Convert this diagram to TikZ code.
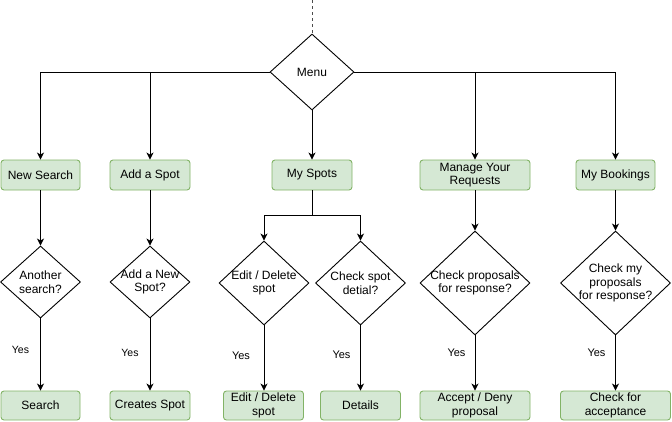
\documentclass[tikz,border=0pt]{standalone}
\usepackage{fontspec}
\setmainfont{Liberation Sans}
\usetikzlibrary{shapes.geometric,arrows.meta}
\definecolor{boxfill}{HTML}{D5E8D4}
\definecolor{boxline}{HTML}{82B366}
\begin{document}
\begin{tikzpicture}[x=1pt,y=-1pt,
  every node/.style={font=\fontsize{12}{13.5}\selectfont},
  gbox/.style={draw=boxline,fill=boxfill,rounded corners=3pt,line width=0.9pt,
    minimum height=30pt,inner sep=0pt,align=center},
  dia/.style={draw=black,diamond,line width=0.9pt,inner sep=0pt,fill=white},
  txt/.style={align=center,inner sep=0pt},
  lab/.style={inner sep=0pt,font=\fontsize{10.5}{12}\selectfont},
  conn/.style={draw=black,line width=0.9pt,-{Stealth[length=7pt,width=7pt,inset=2pt]}}]
\useasboundingbox (0,0) rectangle (672,421);
% menu
\node[dia,minimum width=84pt,minimum height=76pt] (menu) at (312,72) {};
\node[txt] (menut) at (menu) {Menu};
\coordinate (top) at (312,0);
% row 1
\node[gbox,minimum width=79pt] (ns) at (40.5,175) {New Search};
\node[gbox,minimum width=80pt] (as) at (150,175) {Add a Spot};
\node[gbox,minimum width=80pt] (ms) at (312,175) {My Spots};
\node[gbox,minimum width=110pt] (mr) at (475,175) {Manage Your\\Requests};
\node[gbox,minimum width=79pt] (mb) at (615.5,175) {My Bookings};
% diamonds
\node[dia,minimum width=80pt,minimum height=72pt] (d1) at (40.5,282) {};
\node[txt] (d1t) at (d1) {Another\\search?};
\node[dia,minimum width=80pt,minimum height=72pt] (d2) at (150,282) {};
\node[txt] (d2t) at (d2) {Add a New\\Spot?};
\node[dia,minimum width=90pt,minimum height=84pt] (d3) at (264,283) {};
\node[txt] (d3t) at (d3) {Edit / Delete\\spot};
\node[dia,minimum width=90pt,minimum height=84pt] (d4) at (360.5,283) {};
\node[txt] (d4t) at (d4) {Check spot\\detial?};
\node[dia,minimum width=110pt,minimum height=104pt] (d5) at (475,283) {};
\node[txt] (d5t) at (d5) {Check proposals\\for response?};
\node[dia,minimum width=110pt,minimum height=104pt] (d6) at (615.5,283) {};
\node[txt] (d6t) at (d6) {Check my\\proposals\\for response?};
% bottom
\node[gbox,minimum width=79pt,minimum height=29pt] (b1) at (40.5,405.5) {Search};
\node[gbox,minimum width=80pt,minimum height=29pt] (b2) at (150,405.5) {Creates Spot};
\node[gbox,minimum width=80pt,minimum height=29pt] (b3) at (263.5,405.5) {Edit / Delete\\spot};
\node[gbox,minimum width=80pt,minimum height=29pt] (b4) at (360.5,405.5) {Details};
\node[gbox,minimum width=110pt,minimum height=29pt] (b5) at (475,405.5) {Accept / Deny\\proposal};
\node[gbox,minimum width=110pt,minimum height=29pt] (b6) at (615.5,405.5) {Check for\\acceptance};
% yes labels
\node[lab] (y1) at (20.5,350) {Yes};
\node[lab] (y2) at (130,353) {Yes};
\node[lab,font=\fontsize{11}{12}\selectfont] (y3) at (241,356) {Yes};
\node[lab,font=\fontsize{11}{12}\selectfont] (y4) at (341.5,355) {Yes};
\node[lab,font=\fontsize{11}{12}\selectfont] (y5) at (456.5,353) {Yes};
\node[lab,font=\fontsize{11}{12}\selectfont] (y6) at (596.5,353) {Yes};
% connectors
\draw[dashed,draw=black!70,line width=0.9pt] (top) -- (menu.north);
\draw[conn] (menu.west) -| (ns.north);
\draw[conn] (menu.west) -| (as.north);
\draw[conn] (menu.south) -- (ms.north);
\draw[conn] (menu.east) -| (mr.north);
\draw[conn] (menu.east) -| (mb.north);
\draw[conn] (ns.south) -- (d1.north);
\draw[conn] (as.south) -- (d2.north);
\coordinate (split) at (312,215);
\draw[line width=0.9pt] (ms.south) -- (split);
\draw[conn] (split) -| (d3.north);
\draw[conn] (split) -| (d4.north);
\draw[conn] (mr.south) -- (d5.north);
\draw[conn] (mb.south) -- (d6.north);
\draw[conn] (d1.south) -- (b1.north);
\draw[conn] (d2.south) -- (b2.north);
\draw[conn] (d3.south) -- (d3.south |- b3.north);
\draw[conn] (d4.south) -- (b4.north);
\draw[conn] (d5.south) -- (b5.north);
\draw[conn] (d6.south) -- (b6.north);
\end{tikzpicture}
\end{document}
